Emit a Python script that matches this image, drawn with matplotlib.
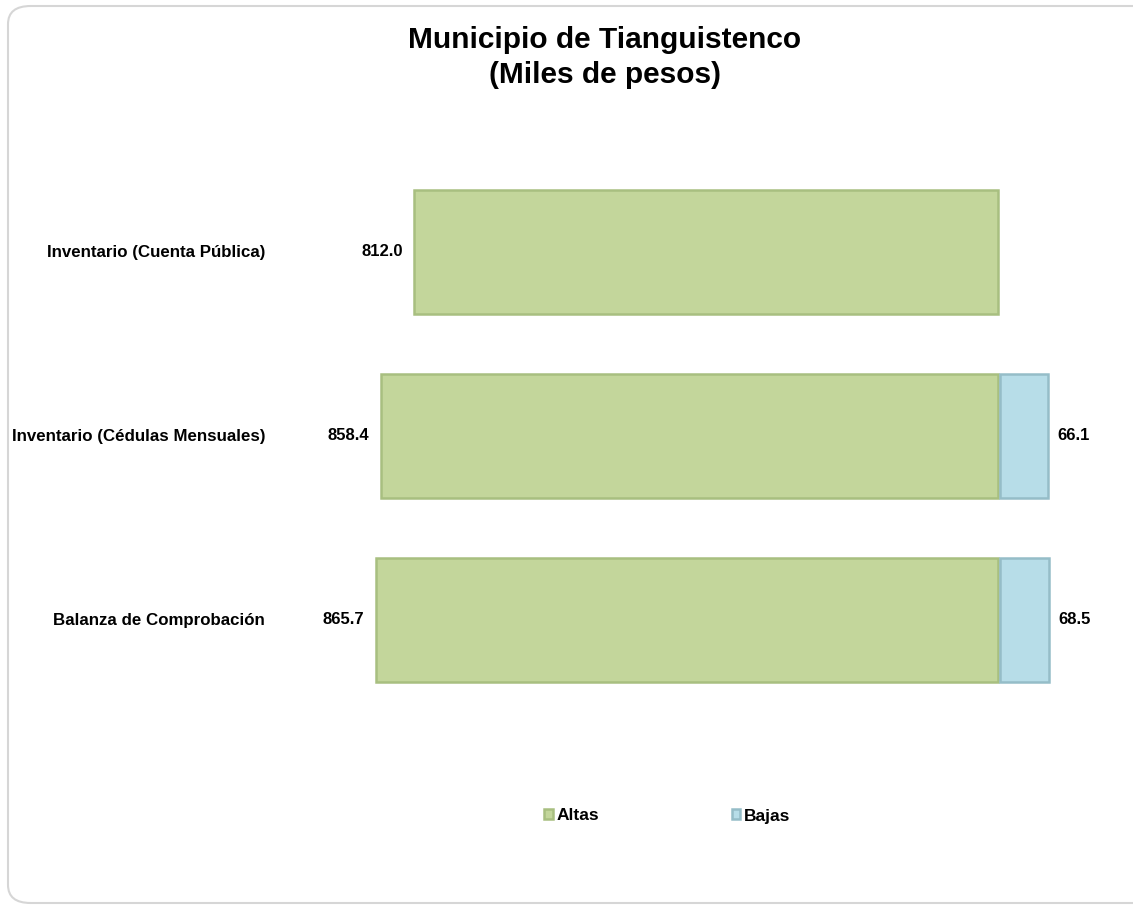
import matplotlib.pyplot as plt
from matplotlib.patches import FancyBboxPatch

plt.rcParams['font.family'] = ['Liberation Sans', 'DejaVu Sans']

categorias = ['Inventario (Cuenta Pública)', 'Inventario (Cédulas Mensuales)', 'Balanza de Comprobación']
altas = [812.0, 858.4, 865.7]
bajas = [0.0, 66.1, 68.5]

verde = '#c3d69b'
verde_borde = '#a8bf80'
azul = '#b7dde8'
azul_borde = '#95bdc8'

fig = plt.figure(figsize=(11.33, 9.07), dpi=100)
W, H = 1133, 907

# marco redondeado del grafico
marco = FancyBboxPatch((8 / W, 4 / H), 1.2, 1 - 10 / H, boxstyle='round,pad=0,rounding_size=0.02',
                       transform=fig.transFigure, facecolor='none', edgecolor='#d6d6d6', linewidth=1.5,
                       zorder=-1)
fig.patches.append(marco)

ax = fig.add_axes([290 / W, 1 - 712 / H, (1110 - 290) / W, (712 - 160) / H])
ax.set_facecolor('none')
esc = 0.719
ax.set_xlim((290 - 998) / esc, (1110 - 998) / esc)
ax.set_ylim(2.5, -0.5)

y = list(range(len(categorias)))
b1 = ax.barh(y, [-a for a in altas], height=0.67, color=verde, edgecolor=verde_borde, linewidth=1.8, label='Altas')
b2 = ax.barh([i for i, b in zip(y, bajas) if b > 0], [b for b in bajas if b > 0], left=3, height=0.67,
             color=azul, edgecolor=azul_borde, linewidth=1.8, label='Bajas')

for i in y:
    ax.text(-altas[i] - 16, i, f'{altas[i]:.1f}', ha='right', va='center', fontsize=12, fontweight='bold')
    if bajas[i] > 0:
        ax.text(bajas[i] + 16, i, f'{bajas[i]:.1f}', ha='left', va='center', fontsize=12, fontweight='bold')
    fig.text(265 / W, 1 - (252 + 184 * i) / H, categorias[i], ha='right', va='center',
             fontsize=12.2, fontweight='bold')

ax.axis('off')

fig.text(605 / W, 1 - 40 / H, 'Municipio de Tianguistenco', ha='center', va='center', fontsize=21.5, fontweight='bold')
fig.text(605 / W, 1 - 75 / H, '(Miles de pesos)', ha='center', va='center', fontsize=21.5, fontweight='bold')

fig.legend(handles=[b1, b2], loc='center', bbox_to_anchor=(667 / W, 1 - 816 / H), ncol=2, frameon=False,
           prop={'weight': 'bold', 'size': 12.5}, handlelength=0.5, handleheight=0.5, handletextpad=0.2,
           columnspacing=7.65)

fig.savefig('out.png', dpi=100)
